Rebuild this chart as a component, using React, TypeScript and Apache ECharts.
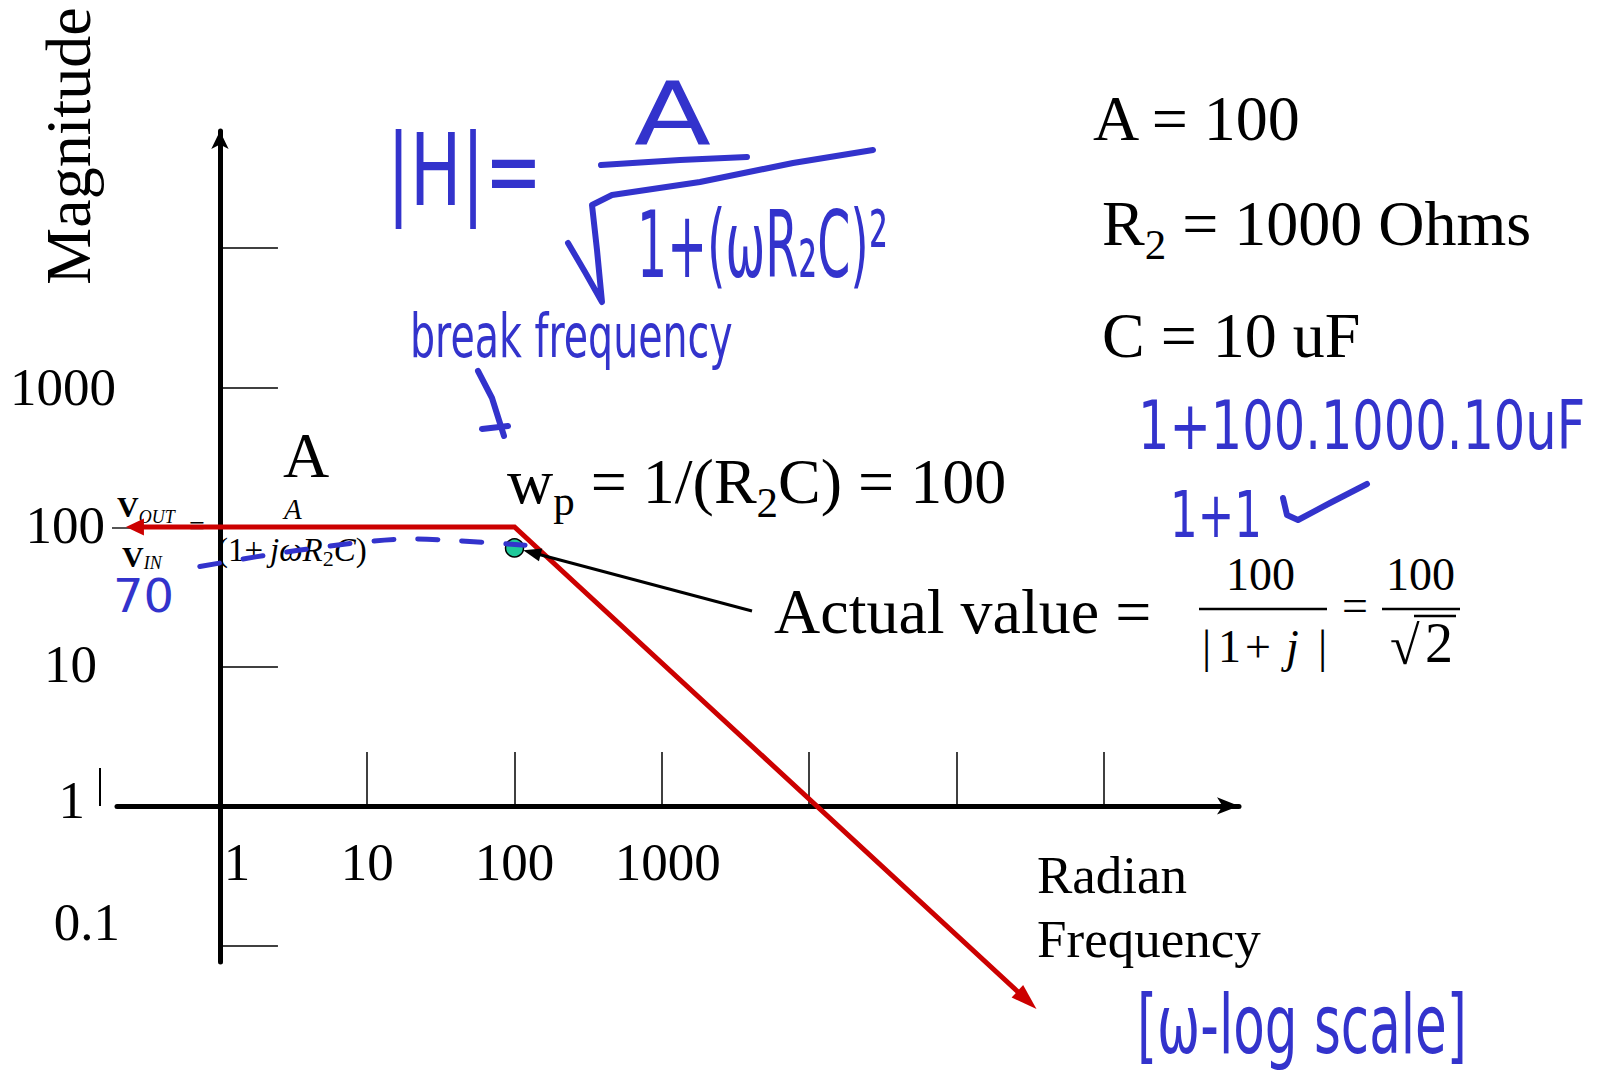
import { useEffect, useRef } from 'react';
import * as echarts from 'echarts';

const W = 1604;
const H = 1078;

// Log-log axes: radian frequency (x) and magnitude (y)
const X_MIN = 0.2;
const X_MAX = 8.3e6;
const Y_MIN = 0.076;
const Y_MAX = 6.9e4;

const X_TICKS = [10, 100, 1000, 1e4, 1e5, 1e6];
const X_LABEL_VALUES = [1, 10, 100, 1000];
const X_LABELS = ['1', '10', '100', '1000'];
const Y_TICKS = [0.1, 10, 100, 1000, 1e4];
const Y_LABEL_VALUES = [0.1, 1, 10, 100, 1000];
const Y_LABELS = ['0.1', '1', '10', '100', '1000'];

// Straight-line approximation: flat at A = 100, then falling past the pole at 100 rad/s
const asymptoteW = [0.23, 100, 3.5e5];
const asymptoteMag = [100, 100, 0.035];

// Actual magnitude at the pole: 100/√2
const poleW = [100];
const poleMag = [70.7];

// Hand-sketched level near 70
const sketchW = [0.73, 3.4, 20, 39, 118];
const sketchMag = [52, 68, 82, 80, 74];

const GRID = { left: 117, right: 365, top: 131, bottom: 116 };

const SERIF = 'Liberation Serif';
const INK_FONT = 'DejaVu Sans';
const RED = '#CC0000';
const INK = '#3333CC';
const DOT = '#1FC99A';

let measureCtx: CanvasRenderingContext2D | null = null;
function textWidth(t: string, font: string): number {
  if (!measureCtx) measureCtx = document.createElement('canvas').getContext('2d');
  measureCtx!.font = font;
  return measureCtx!.measureText(t).width;
}

type Part = { t: string; fs: number; it?: boolean; b?: boolean; dy?: number; gap?: number };

// Lays out text runs left to right on a shared baseline
function row(x: number, base: number, parts: Part[], fill = '#000', z = 1): any[] {
  const out: any[] = [];
  let cx = x;
  for (const p of parts) {
    cx += p.gap || 0;
    const font = `${p.it ? 'italic ' : ''}${p.b ? 'bold ' : ''}${p.fs}px ${SERIF}`;
    const w = textWidth(p.t, font);
    out.push({
      type: 'text',
      x: cx,
      y: base + (p.dy || 0) - 0.3375 * p.fs,
      z,
      silent: true,
      style: {
        text: p.t,
        fontSize: p.fs,
        fontFamily: SERIF,
        fontStyle: p.it ? 'italic' : 'normal',
        fontWeight: p.b ? 'bold' : 'normal',
        fill,
        align: 'left',
        verticalAlign: 'middle',
      },
    });
    cx += w;
  }
  return out;
}

function line(x1: number, y1: number, x2: number, y2: number, color = '#000', width = 2.5, z = 1) {
  return { type: 'line', z, silent: true, shape: { x1, y1, x2, y2 }, style: { stroke: color, lineWidth: width } };
}

// Handwritten notes, stretched to the span they occupy
function inkText(t: string, x0: number, x1: number, cy: number, fs: number) {
  const w = textWidth(t, `${fs}px ${INK_FONT}`);
  return {
    type: 'text',
    x: x0,
    y: cy,
    scaleX: (x1 - x0) / w,
    z: 50,
    silent: true,
    style: {
      text: t,
      fontSize: fs,
      fontFamily: INK_FONT,
      fill: INK,
      align: 'left',
      verticalAlign: 'middle',
    },
  };
}

function inkStroke(points: number[][], width = 6) {
  return {
    type: 'polyline',
    z: 50,
    silent: true,
    shape: { points },
    style: { stroke: INK, lineWidth: width, lineCap: 'round', lineJoin: 'round', fill: null },
  };
}

function arrowHead(tip: number[], from: number[], len: number, width: number) {
  const dx = tip[0] - from[0];
  const dy = tip[1] - from[1];
  const d = Math.hypot(dx, dy) || 1;
  const ux = dx / d;
  const uy = dy / d;
  const bx = tip[0] - ux * len;
  const by = tip[1] - uy * len;
  const px = -uy;
  const py = ux;
  return {
    base: [tip[0] - ux * len * 0.6, tip[1] - uy * len * 0.6],
    poly: [
      [tip[0], tip[1]],
      [bx + (px * width) / 2, by + (py * width) / 2],
      [bx - (px * width) / 2, by - (py * width) / 2],
    ],
  };
}

const POINTER_START = [752, 611];

function indexOfValue(values: number[], v: number) {
  let best = 0;
  let bestD = Infinity;
  values.forEach((x, i) => {
    const d = Math.abs(Math.log10(x) - Math.log10(v));
    if (d < bestD) {
      bestD = d;
      best = i;
    }
  });
  return best;
}

function buildGraphics(): any[] {
  const g: any[] = [];

  // Axis title, reading upward
  g.push({
    type: 'text',
    x: 68,
    y: 146,
    rotation: Math.PI / 2,
    z: 1,
    silent: true,
    style: { text: 'Magnitude', fontSize: 64, fontFamily: SERIF, fill: '#000', align: 'center', verticalAlign: 'middle' },
  });
  g.push(...row(1037, 893, [{ t: 'Radian', fs: 53 }]));
  g.push(...row(1037, 957, [{ t: 'Frequency', fs: 53 }]));

  // Small mark beside the "1" magnitude label
  g.push(line(100, 768, 100, 806, '#000', 2));

  // Circuit values
  g.push(...row(1093, 140, [{ t: 'A = 100', fs: 64 }]));
  g.push(...row(1102, 245, [{ t: 'R', fs: 64 }, { t: '2', fs: 43, dy: 14 }, { t: ' = 1000 Ohms', fs: 64 }]));
  g.push(...row(1102, 357, [{ t: 'C = 10 uF', fs: 64 }]));

  // Gain label and pole frequency
  g.push(...row(283, 477, [{ t: 'A', fs: 64 }]));
  g.push(
    ...row(507, 503, [
      { t: 'w', fs: 64 },
      { t: 'p', fs: 43, dy: 12 },
      { t: ' = 1/(R', fs: 64 },
      { t: '2', fs: 43, dy: 14 },
      { t: 'C) = 100', fs: 64 },
    ])
  );

  // Transfer function V_OUT / V_IN = A / (1 + jωR2C)
  g.push(...row(117, 517, [{ t: 'V', fs: 30, b: true }, { t: 'OUT', fs: 18, it: true, dy: 6 }]));
  g.push(...row(122, 567, [{ t: 'V', fs: 30, b: true }, { t: 'IN', fs: 18, it: true, dy: 2 }]));
  g.push(line(112, 528, 180, 528, '#555', 2));
  g.push(...row(189, 535, [{ t: '=', fs: 28 }]));
  g.push(line(214, 528, 368, 528, '#555', 2));
  g.push(...row(284, 519, [{ t: 'A', fs: 29, it: true }]));
  g.push(
    ...row(217, 561, [
      { t: '(1+', fs: 33 },
      { t: 'j', fs: 33, it: true, gap: 7 },
      { t: 'ωR', fs: 33, it: true },
      { t: '2', fs: 22, dy: 5 },
      { t: 'C', fs: 33, it: true },
      { t: ')', fs: 33 },
    ])
  );

  // Actual value = 100/|1+j| = 100/√2
  g.push(...row(774, 633, [{ t: 'Actual value =', fs: 64 }]));
  g.push(...row(1226, 590, [{ t: '100', fs: 46 }]));
  g.push(line(1199, 609, 1327, 609, '#000', 2.5));
  g.push(...row(1202, 662, [{ t: '|', fs: 46 }]));
  g.push(...row(1218, 662, [{ t: '1', fs: 46 }]));
  g.push(...row(1245, 662, [{ t: '+', fs: 46 }]));
  g.push(...row(1286, 662, [{ t: 'j', fs: 46, it: true }]));
  g.push(...row(1318, 662, [{ t: '|', fs: 46 }]));
  g.push(...row(1342, 621, [{ t: '=', fs: 46 }]));
  g.push(...row(1386, 590, [{ t: '100', fs: 46 }]));
  g.push(line(1382, 609, 1460, 609, '#000', 2.5));
  g.push(...row(1390, 664, [{ t: '√', fs: 54 }]));
  g.push(line(1414, 616, 1456, 616, '#000', 2.5));
  g.push(...row(1425, 662, [{ t: '2', fs: 56 }]));

  // Handwritten notes
  g.push(inkText('|H|=', 387, 542, 170, 100));
  g.push(inkText('A', 634, 711, 114, 88));
  g.push(inkStroke([[601, 165], [680, 160], [747, 157]]));
  g.push(
    inkStroke([
      [568, 243],
      [585, 272],
      [602, 302],
      [597, 250],
      [592, 205],
      [612, 195],
      [700, 182],
      [793, 163],
      [873, 150],
    ])
  );
  g.push(inkText('1+(ωR₂C)²', 637, 888, 245, 92));
  g.push(inkText('break frequency', 410, 733, 336, 60));
  g.push(inkStroke([[478, 371], [492, 398], [504, 436]]));
  g.push(inkStroke([[482, 429], [508, 426]]));
  g.push(inkText('1+100.1000.10uF', 1138, 1585, 426, 68));
  g.push(inkText('1+1', 1170, 1262, 515, 64));
  g.push(inkStroke([[1283, 498], [1287, 515], [1298, 520], [1330, 503], [1367, 484]]));
  g.push(inkText('70', 113, 174, 596, 46));
  g.push(inkText('[ω-log scale]', 1137, 1467, 1024, 82));

  return g;
}

const Y_RICH_PAD: Record<string, number[]> = {
  y0: [0, 0, 47, 0],
  y1: [0, 35, 12, 0],
  y2: [0, 23, 5, 0],
  y3: [0, 15, 4, 0],
  y4: [0, 4, 0, 0],
};
const X_RICH_PAD: Record<string, number[]> = {
  x0: [0, 0, 0, 34],
  x1: [0, 0, 0, 0],
  x2: [0, 0, 0, 0],
  x3: [0, 0, 0, 12],
};

function richStyles(pads: Record<string, number[]>) {
  const r: Record<string, any> = {};
  Object.keys(pads).forEach((k) => {
    r[k] = { fontSize: 53, fontFamily: SERIF, color: '#000', padding: pads[k] };
  });
  return r;
}

export default function App() {
  const ref = useRef<HTMLDivElement>(null);

  useEffect(() => {
    if (!ref.current) return;
    const chart = echarts.init(ref.current, null, { renderer: 'svg' });

    const option: any = {
      animation: false,
      backgroundColor: '#ffffff',
      grid: { ...GRID, outerBoundsMode: 'none' },
      xAxis: {
        type: 'log',
        logBase: 10,
        min: X_MIN,
        max: X_MAX,
        position: 'bottom',
        axisLine: {
          show: true,
          onZero: false,
          symbol: ['none', 'arrow'],
          symbolSize: [13, 22],
          lineStyle: { color: '#000', width: 5 },
        },
        axisTick: {
          show: true,
          inside: true,
          length: 54,
          customValues: X_TICKS,
          lineStyle: { color: '#000', width: 1.5 },
        },
        minorTick: { show: false },
        splitLine: { show: false },
        axisLabel: {
          customValues: X_LABEL_VALUES,
          margin: 30,
          fontSize: 53,
          fontFamily: SERIF,
          color: '#000',
          formatter: (v: number) => {
            const i = indexOfValue(X_LABEL_VALUES, v);
            return `{x${i}|${X_LABELS[i]}}`;
          },
          rich: richStyles(X_RICH_PAD),
        },
      },
      yAxis: {
        type: 'log',
        logBase: 10,
        min: Y_MIN,
        max: Y_MAX,
        position: 'left',
        axisLine: {
          show: true,
          onZero: false,
          symbol: ['none', 'arrow'],
          symbolSize: [13, 18],
          lineStyle: { color: '#000', width: 5 },
        },
        axisTick: {
          show: true,
          inside: true,
          length: 58,
          customValues: Y_TICKS,
          lineStyle: { color: '#000', width: 1.5 },
        },
        minorTick: { show: false },
        splitLine: { show: false },
        axisLabel: {
          customValues: Y_LABEL_VALUES,
          margin: 100,
          fontSize: 53,
          fontFamily: SERIF,
          color: '#000',
          formatter: (v: number) => {
            const i = indexOfValue(Y_LABEL_VALUES, v);
            return `{y${i}|${Y_LABELS[i]}}`;
          },
          rich: richStyles(Y_RICH_PAD),
        },
      },
      graphic: { elements: buildGraphics() },
      series: [
        {
          name: 'Asymptotic magnitude',
          type: 'custom',
          coordinateSystem: 'cartesian2d',
          clip: false,
          z: 2,
          data: asymptoteW.map((w, i) => [w, asymptoteMag[i]]),
          encode: { x: 0, y: 1 },
          renderItem: (params: any, api: any) => {
            if (params.dataIndex !== 0) return null;
            const pts = asymptoteW.map((w, i) => api.coord([w, asymptoteMag[i]]));
            const headL = arrowHead(pts[0], pts[1], 18, 17);
            const headR = arrowHead(pts[2], pts[1], 26, 17);

            // Pointer from the "Actual value" note to the pole point
            const dot = api.coord([poleW[0], poleMag[0]]);
            const sx = POINTER_START[0] - dot[0];
            const sy = POINTER_START[1] - dot[1];
            const sd = Math.hypot(sx, sy);
            const tip = [dot[0] + (sx / sd) * 9, dot[1] + (sy / sd) * 9];
            const headP = arrowHead(tip, POINTER_START, 18, 13);

            return {
              type: 'group',
              children: [
                {
                  type: 'polyline',
                  shape: { points: [headL.base, pts[1], headR.base] },
                  style: { stroke: RED, lineWidth: 5, fill: null, lineJoin: 'miter' },
                },
                { type: 'polygon', shape: { points: headL.poly }, style: { fill: RED } },
                { type: 'polygon', shape: { points: headR.poly }, style: { fill: RED } },
                {
                  type: 'line',
                  shape: { x1: POINTER_START[0], y1: POINTER_START[1], x2: headP.base[0], y2: headP.base[1] },
                  style: { stroke: '#000', lineWidth: 3 },
                },
                { type: 'polygon', shape: { points: headP.poly }, style: { fill: '#000' } },
              ],
            };
          },
        },
        {
          name: 'Actual value at pole',
          type: 'scatter',
          z: 3,
          symbolSize: 18,
          data: poleW.map((w, i) => [w, poleMag[i]]),
          itemStyle: { color: DOT, borderColor: '#000', borderWidth: 1.5, opacity: 1 },
        },
        {
          name: 'Sketched level',
          type: 'line',
          z: 4,
          smooth: 0.3,
          symbol: 'none',
          clip: false,
          data: sketchW.map((w, i) => [w, sketchMag[i]]),
          lineStyle: { color: INK, width: 5, type: [20, 24], cap: 'round' },
        },
      ],
    };

    chart.setOption(option);

    // Place each axis line where the other axis equals 1
    const origin = chart.convertToPixel({ gridIndex: 0 }, [1, 1]) as number[];
    if (origin && isFinite(origin[0]) && isFinite(origin[1])) {
      chart.setOption({
        xAxis: { offset: origin[1] - (H - GRID.bottom) },
        yAxis: { offset: GRID.left - origin[0] },
      });
    }

    return () => chart.dispose();
  }, []);

  return <div ref={ref} style={{ position: 'fixed', left: 0, top: 0, width: W, height: H, background: '#fff' }} />;
}
